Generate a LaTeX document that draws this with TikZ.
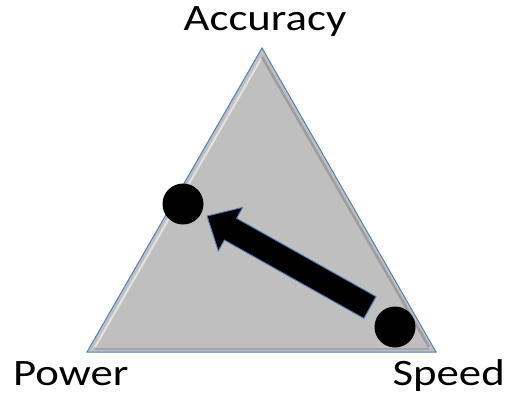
\documentclass[tikz,border=0pt]{standalone}
\usepackage{fontspec}
\setmainfont{Carlito}
\newfontfamily\labfont[FakeStretch=1.2]{Carlito}
\definecolor{trigray}{HTML}{BFBFBF}
\definecolor{edgeblue}{HTML}{4F81BD}
\begin{document}
\begin{tikzpicture}[x=1pt,y=-1pt,
  lab/.style={inner sep=0pt,font=\labfont\fontsize{37.3}{40}\selectfont},
  dot/.style={circle,fill=black,inner sep=0pt,minimum size=41pt},
  tri/.style={fill=trigray,draw=edgeblue,line width=1pt,line join=miter},
  blockarrow/.style={fill=black,draw=edgeblue,line width=0.9pt,line join=miter}]
\useasboundingbox (0,0) rectangle (512,402);
% triangle corners
\coordinate (top) at (262,48);
\coordinate (bl) at (87,352);
\coordinate (br) at (436,352);
\draw[tri] (top) -- (bl) -- (br) -- cycle;
% subtle bevel
\draw[white!55!trigray,line width=2pt] (262,57) -- (95,347);
\draw[black!18!trigray,line width=2.5pt] (262,57) -- (429,347);
\draw[black!14!trigray,line width=2pt] (95,348.5) -- (429,348.5);
% labels
\node[lab,anchor=base] (acc) at (265,30) {Accuracy};
\node[lab,anchor=base west] (pow) at (13,385) {Power};
\node[lab,anchor=base east] (spd) at (505,385) {Speed};
% dots
\node[dot] (d1) at (183,204) {};
\node[dot] (d2) at (395,327) {};
% block arrow
\coordinate (tip) at (207,216);
\draw[blockarrow] (376.1,296.6) -- (236.6,218.3) -- (242.7,207.4) -- (tip)
  -- (218.3,251) -- (224.4,240.1) -- (363.9,318.4) -- cycle;
\end{tikzpicture}
\end{document}
